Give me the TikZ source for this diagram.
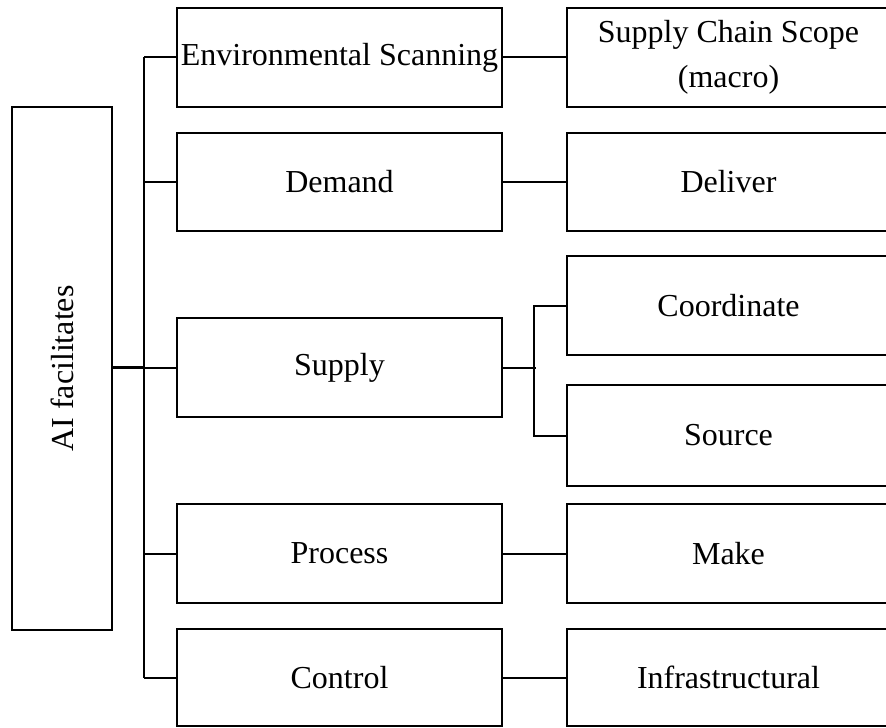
\documentclass[tikz,border=0pt]{standalone}
\usepackage{fontspec}
\setmainfont{Liberation Serif}
\begin{document}
\begin{tikzpicture}[x=0.5pt,y=-0.5pt,
  box/.style={draw=black,line width=1pt,rectangle,inner sep=0pt,align=center,
    font=\fontsize{16}{22.5}\selectfont},
  midbox/.style={box,minimum width=162.5pt},
  rbox/.style={box,minimum width=161.5pt},
  conn/.style={draw=black,line width=1pt},
  trunk/.style={draw=black,line width=1.3pt}]
\useasboundingbox (0,0) rectangle (886,727);
\node[box,minimum width=50pt,minimum height=261.5pt] (ai) at (62,368.5) {};
\node[rotate=90,font=\fontsize{16}{22.5}\selectfont,inner sep=0pt] (ait) at (ai.center) {AI facilitates};
\node[midbox,minimum height=49.5pt] (env) at (339.5,57.5) {Environmental Scanning};
\node[midbox,minimum height=49pt] (dem) at (339.5,182) {Demand};
\node[midbox,minimum height=49.5pt] (sup) at (339.5,367.5) {Supply};
\node[midbox,minimum height=49.5pt] (proc) at (339.5,553.5) {Process};
\node[midbox,minimum height=48.5pt] (ctl) at (339.5,677.5) {Control};
\node[rbox,minimum height=49.5pt] (scs) at (728.5,57.5) {Supply Chain Scope\\(macro)};
\node[rbox,minimum height=49pt] (del) at (728.5,182) {Deliver};
\node[rbox,minimum height=49.5pt] (coo) at (728.5,305.5) {Coordinate};
\node[rbox,minimum height=50.5pt] (src) at (728.5,435.5) {Source};
\node[rbox,minimum height=49.5pt] (mak) at (728.5,553.5) {Make};
\node[rbox,minimum height=48.5pt] (inf) at (728.5,677.5) {Infrastructural};
% trunk
\coordinate (ttop) at ([xshift=-16pt]env.west);
\coordinate (tbot) at ([xshift=-16pt]ctl.west);
\draw[trunk] (ttop) -- (tbot);
\draw[conn] (env.west) -- (ttop);
\draw[conn] (ctl.west) -- (tbot);
\draw[conn] (dem.west) -- ++(-32,0);
\draw[conn] (proc.west) -- ++(-32,0);
\draw[trunk] (ai.east |- sup.west) -- (ttop |- sup.west);
\draw[conn] (ttop |- sup.west) -- (sup.west);
% right links
\draw[conn] (env.east) -- (scs.west);
\draw[conn] (dem.east) -- (del.west);
\draw[conn] (proc.east) -- (mak.west);
\draw[conn] (ctl.east) -- (inf.west);
\draw[conn] (sup.east) -- ++(33,0);
\draw[conn] (coo.west) -- ++(-32,0) |- (src.west);
\end{tikzpicture}
\end{document}
